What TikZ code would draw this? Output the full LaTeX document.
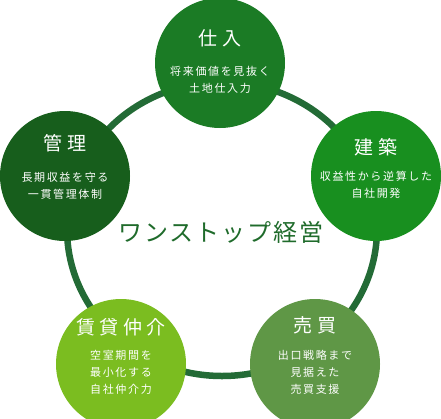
\documentclass[tikz,border=0pt]{standalone}
\usepackage{fontspec}
\usepackage{xcolor}
\usepackage{tikz}
\usetikzlibrary{positioning}
\newfontfamily\jpsub[LetterSpace=15]{Noto Sans CJK JP}
\newfontfamily\jpttl[LetterSpace=22]{Noto Sans CJK JP}
\newfontfamily\jphub[LetterSpace=8]{Noto Sans CJK JP}
\definecolor{cRing}{HTML}{236B36}
\definecolor{cShiire}{HTML}{1B7B25}
\definecolor{cKenchiku}{HTML}{188F1F}
\definecolor{cKanri}{HTML}{175E1C}
\definecolor{cChintai}{HTML}{7BBD20}
\definecolor{cBaibai}{HTML}{5F9746}
\definecolor{cHubText}{HTML}{1F6B2B}

\begin{document}
\begin{tikzpicture}[x=1pt, y=-1pt,
  disc/.style={circle, minimum size=130pt, inner sep=0pt},
  ttl/.style={text=white, font=\jpttl\fontsize{19}{21}\selectfont},
  sub/.style={text=white, align=center, font=\jpsub\fontsize{11}{17}\selectfont},
  hubtxt/.style={text=cHubText, font=\jphub\fontsize{24}{26}\selectfont},
  loop/.style={draw=cRing, line width=6.5pt}]
\useasboundingbox (0,0) rectangle (441,418);
\coordinate (hub) at (222,229);
\draw[loop] (hub) ellipse [x radius=155, y radius=147];
% five circles round the ring
\node[disc, fill=cShiire] (shiire) at (220,63) {};
\node[disc, fill=cKenchiku] (kenchiku) at (376,176) {};
\node[disc, fill=cKanri] (kanri) at (65,176) {};
\node[disc, fill=cChintai] (chintai) at (121,364) {};
\node[disc, fill=cBaibai] (baibai) at (315,364) {};
% texts
\node[ttl] (shiireT) at (220,38) {仕\hspace{5pt}入};
\node[sub] (shiireS) at (220,79.5) {将来価値を見抜く\\土地仕入力};
\node[ttl] (kenchikuT) at (376,147) {建\hspace{6pt}築};
\node[sub] (kenchikuS) at (376,185) {収益性から逆算した\\自社開発};
\node[ttl] (kanriT) at (65,143) {管理};
\node[sub] (kanriS) at (65,185.5) {長期収益を守る\\一貫管理体制};
\node[ttl] (chintaiT) at (121,327) {賃貸仲介};
\node[sub] (chintaiS) at (121,372) {空室期間を\\最小化する\\自社仲介力};
\node[ttl] (baibaiT) at (315,325) {売\hspace{5pt}買};
\node[sub] (baibaiS) at (315,372) {出口戦略まで\\見据えた\\売買支援};
\node[hubtxt] (onestop) at (221,232) {ワンストップ経営};
\end{tikzpicture}
\end{document}
